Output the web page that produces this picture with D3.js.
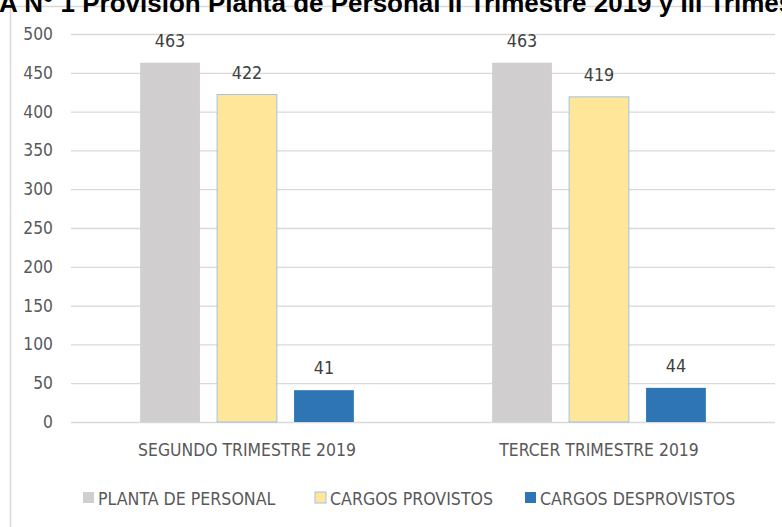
<!DOCTYPE html>
<html>
<head>
<meta charset="utf-8">
<script src="https://cdn.jsdelivr.net/npm/d3@7"></script>
<style>
  body { margin: 0; background: #fff; }
  svg { display: block; }
</style>
</head>
<body>
<svg width="782" height="527"></svg>
<script>
var width = 782;
var height = 527;

// data
var categories = ["SEGUNDO TRIMESTRE 2019", "TERCER TRIMESTRE 2019"];
var seriesNames = ["PLANTA DE PERSONAL", "CARGOS PROVISTOS", "CARGOS DESPROVISTOS"];
var planta = [463, 463];
var provistos = [422, 419];
var desprovistos = [41, 44];
var yTicks = [0, 50, 100, 150, 200, 250, 300, 350, 400, 450, 500];
var titleText = "GRÁFICA N° 1 Provisión Planta de Personal II Trimestre 2019 y III Trimestre 2019";

var colors = ["#d0cece", "#ffe699", "#2e75b6"];
var strokes = ["none", "#9dc3e6", "none"];
var font = "'Liberation Sans Narrow', 'Arial Narrow', 'DejaVu Sans Condensed', sans-serif";
var textColor = "#595959";

var rows = categories.map((c, i) => ({
  cat: c,
  values: [planta[i], provistos[i], desprovistos[i]]
}));

var svg = d3.select("svg");

// chart frame (cut by the window on the right and bottom)
svg.append("rect")
  .attr("x", 10.5)
  .attr("y", 6.5)
  .attr("width", 800)
  .attr("height", 600)
  .attr("fill", "#fff")
  .attr("stroke", "#d9d9d9")
  .attr("stroke-width", 1.5);

// title, mostly cut off at the top like in the source image
var title = svg.append("text")
  .attr("y", 12)
  .style("font-family", "'Liberation Sans', Arial, sans-serif")
  .style("font-weight", "bold")
  .style("font-size", "26px")
  .attr("fill", "#000")
  .text("GRÁFICA N° 1 ");
var prefixLen = title.node().getComputedTextLength();
title.attr("x", 75 - prefixLen).text(titleText);

var yScale = d3.scaleLinear()
  .domain([0, 500])
  .range([422, 34]);

var x0 = d3.scaleBand()
  .domain(categories)
  .range([71, 775])
  .paddingInner(0.39)
  .paddingOuter(0.195);

var x1 = d3.scaleBand()
  .domain(d3.range(seriesNames.length))
  .range([0, x0.bandwidth()])
  .paddingInner(0.21);

// gridlines + y labels
var yAxis = d3.axisLeft(yScale)
  .tickValues(yTicks)
  .tickSize(-(775 - 71))
  .tickPadding(18);

var gy = svg.append("g")
  .attr("transform", "translate(71,0)")
  .call(yAxis);
gy.select(".domain").remove();
gy.selectAll(".tick line").attr("stroke", "#d9d9d9").attr("stroke-width", 1.3);
gy.selectAll(".tick text")
  .attr("fill", textColor)
  .style("font-family", font)
  .style("font-size", "17.3px");

// x labels
var xAxis = d3.axisBottom(x0).tickSize(0).tickPadding(22);
var gx = svg.append("g")
  .attr("transform", "translate(0,422)")
  .call(xAxis);
gx.select(".domain").remove();
gx.selectAll(".tick text")
  .attr("fill", textColor)
  .style("font-family", font)
  .style("font-size", "17.4px");

// bars
var groups = svg.append("g")
  .selectAll("g")
  .data(rows)
  .enter()
  .append("g")
  .attr("transform", (d) => `translate(${x0(d.cat)},0)`);

groups.selectAll("rect")
  .data((d) => d.values.map((v, i) => ({ i: i, v: v })))
  .enter()
  .append("rect")
  .attr("x", (d) => x1(d.i) + 0.5)
  .attr("y", (d) => yScale(d.v))
  .attr("width", x1.bandwidth() - 1)
  .attr("height", (d) => yScale(0) - yScale(d.v))
  .attr("fill", (d) => colors[d.i])
  .attr("stroke", (d) => strokes[d.i])
  .attr("stroke-width", 1);

// value labels
groups.selectAll("text.val")
  .data((d) => d.values.map((v, i) => ({ i: i, v: v })))
  .enter()
  .append("text")
  .attr("class", "val")
  .attr("x", (d) => x1(d.i) + x1.bandwidth() / 2)
  .attr("y", (d) => yScale(d.v) - 16)
  .attr("text-anchor", "middle")
  .attr("fill", "#404040")
  .style("font-family", font)
  .style("font-size", "17.8px")
  .text((d) => d.v);

// legend
var legendX = [83, 315, 525];
var legend = svg.append("g")
  .selectAll("g")
  .data(seriesNames)
  .enter()
  .append("g")
  .attr("transform", (d, i) => `translate(${legendX[i]},492)`);

legend.append("rect")
  .attr("width", 11)
  .attr("height", 11)
  .attr("fill", (d, i) => colors[i])
  .attr("stroke", (d, i) => strokes[i]);

legend.append("text")
  .attr("x", 15)
  .attr("y", 12.5)
  .attr("fill", textColor)
  .style("font-family", font)
  .style("font-size", "17.6px")
  .text((d) => d);
</script>
</body>
</html>
